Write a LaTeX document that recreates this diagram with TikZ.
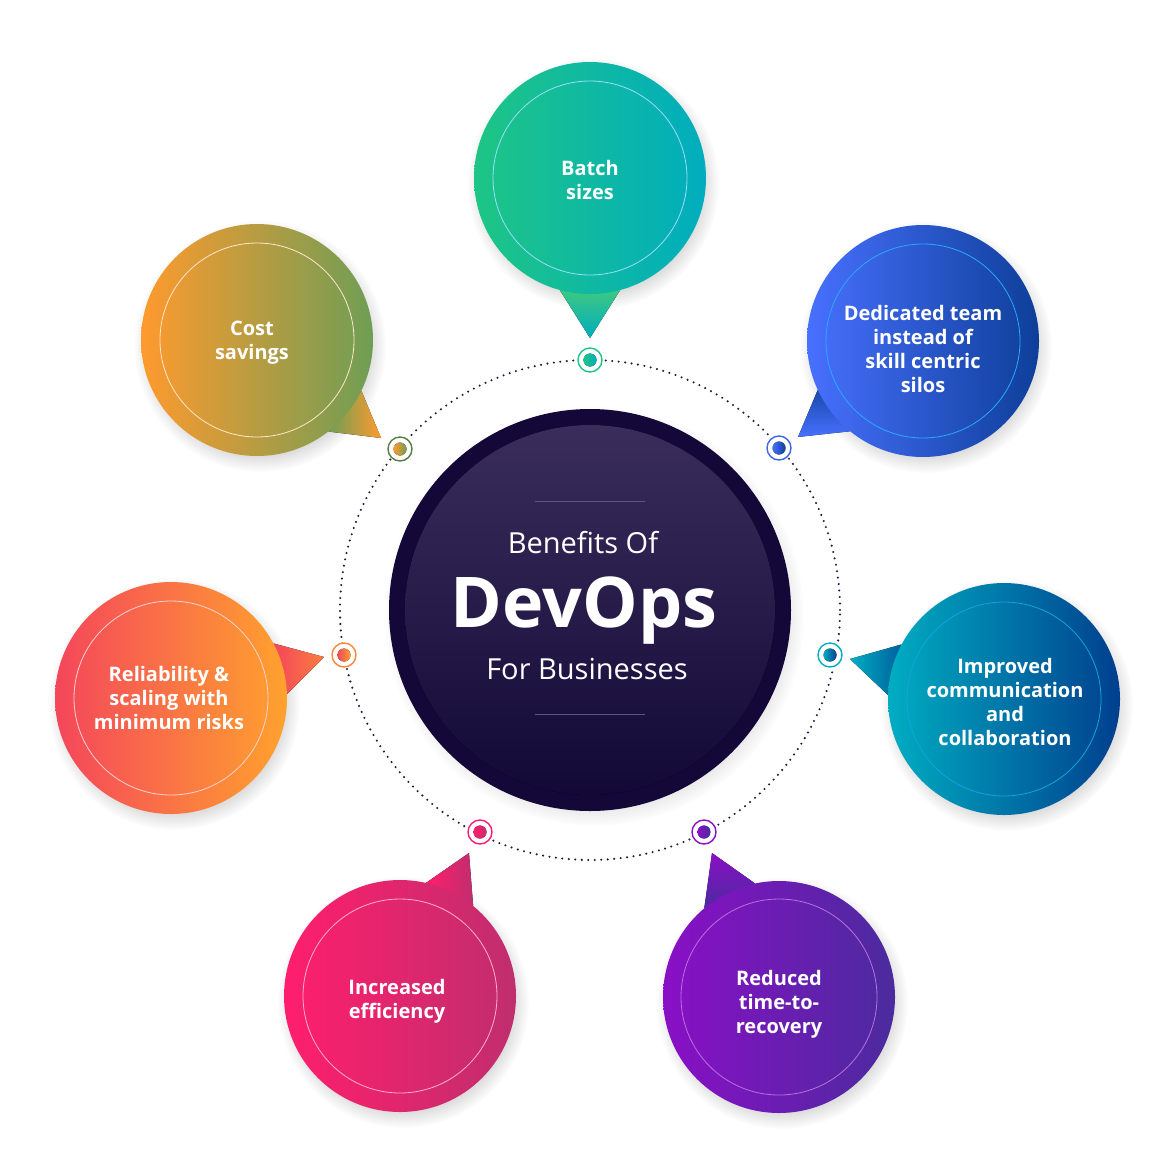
\documentclass[tikz,border=0pt]{standalone}
\usepackage{fontspec}
\setmainfont{Open Sans}
\usetikzlibrary{calc,fadings}

\definecolor{nightink}{HTML}{140838}
\definecolor{nighttop}{HTML}{3A2D5C}
\definecolor{nightbot}{HTML}{120936}
\definecolor{rule}{HTML}{5C5482}
\definecolor{orbitdot}{HTML}{1C1A40}

\definecolor{batchL}{HTML}{1EC585}
\definecolor{batchR}{HTML}{00ADBE}
\definecolor{batchT}{HTML}{3DC882}
\definecolor{teamL}{HTML}{4870FF}
\definecolor{teamR}{HTML}{0D3F99}
\definecolor{commL}{HTML}{00ADC2}
\definecolor{commR}{HTML}{003F8E}
\definecolor{recovL}{HTML}{8A0FC6}
\definecolor{recovR}{HTML}{4B2B9E}
\definecolor{effL}{HTML}{FF1E6D}
\definecolor{effR}{HTML}{C02E6E}
\definecolor{riskL}{HTML}{F4465B}
\definecolor{riskR}{HTML}{FFA22E}
\definecolor{costL}{HTML}{FF9A2E}
\definecolor{costR}{HTML}{6E9E55}

\begin{document}
\begin{tikzpicture}[x=1pt,y=-1pt]

	\tikzstyle{bubble} = [circle,minimum size=232pt,inner sep=0pt]
	\tikzstyle{caption} = [text=white,align=center,font=\bfseries\fontsize{20}{24}\selectfont]
	\tikzstyle{halo} = [line width=0.8pt]
	\tikzstyle{shade} = [black,opacity=0.2,path fading=circle with fuzzy edge 20 percent]
	\tikzstyle{marker} = [circle,minimum size=24pt,inner sep=0pt,fill=white,line width=1.4pt]
	\tikzstyle{orbit} = [orbitdot,line width=2.3pt,line cap=round,dash pattern=on 0pt off 6.5pt]

	\useasboundingbox (0,0) rectangle (1164,1164);

	% dotted orbit
	\draw[orbit] (590,610) circle (250pt);

	% centre disc
	\fill[shade] (594,616) circle (210pt);
	\node[circle,minimum size=402pt,inner sep=0pt,fill=nightink] (core) at (590,610) {};
	\fill[top color=nighttop,bottom color=nightbot] (core.center) circle (185pt);
	\draw[rule,line width=1pt] (535,501) -- (645,501);
	\draw[rule,line width=1pt] (535,714) -- (645,714);
	\node[anchor=base,text=white,font=\fontsize{29}{34}\selectfont] (benefits) at (583,553) {Benefits Of};
	\node[anchor=base,text=white,font=\bfseries\fontsize{70}{80}\selectfont] (devops) at (584,627) {DevOps};
	\node[anchor=base,text=white,font=\fontsize{29}{34}\selectfont] (business) at (587,679) {For Businesses};

	% tail tips
	\coordinate (batch-tip) at (590,338);
	\coordinate (team-tip) at (798,437);
	\coordinate (comm-tip) at (850,659);
	\coordinate (recov-tip) at (712,853);
	\coordinate (eff-tip) at (469,853);
	\coordinate (risk-tip) at (324,657);
	\coordinate (cost-tip) at (381,438);

	% shadows
	\foreach \px/\py in {590/178,923/341,1004/699,779/997,400/996,171/698,257/340}
		\fill[shade] (\px+3,\py+6) circle (126pt);

	% Batch sizes
	\node[bubble] (batch) at (590,178) {};
	\fill[top color=batchT,bottom color=batchR] (batch.255) -- (batch-tip) -- (batch.285) -- cycle;
	\node[bubble,left color=batchL,right color=batchR] (batch) at (590,178) {};
	\draw[halo,draw=cyan!40!white] (batch.center) circle (97pt);
	\node[caption] (batch-text) at (590,180) {Batch\\sizes};

	% Dedicated team
	\node[bubble] (team) at (923,341) {};
	\fill[top color=teamR!80!teamL,bottom color=teamL] (team.205) -- (team-tip) -- (team.231) -- cycle;
	\node[bubble,left color=teamL,right color=teamR] (team) at (923,341) {};
	\draw[halo,draw=teamL!60!cyan] (team.center) circle (97pt);
	\node[caption] (team-text) at (923,349) {Dedicated team\\instead of\\skill centric\\silos};

	% Improved communication
	\node[bubble] (comm) at (1004,699) {};
	\fill[left color=commL,right color=commR!70!commL] (comm-tip) -- (comm.152) -- (comm.178) -- cycle;
	\node[bubble,left color=commL,right color=commR] (comm) at (1004,699) {};
	\draw[halo,draw=cyan!70!commL] (comm.center) circle (97pt);
	\node[caption] (comm-text) at (1005,702) {Improved\\communication\\and\\collaboration};

	% Reduced time-to-recovery
	\node[bubble] (recov) at (779,997) {};
	\fill[top color=recovL,bottom color=recovR] (recov.130) -- (recov-tip) -- (recov.102) -- cycle;
	\node[bubble,left color=recovL,right color=recovR] (recov) at (779,997) {};
	\draw[halo,draw=recovL!60!white] (recov.center) circle (98pt);
	\node[caption] (recov-text) at (779,1004) {Reduced\\time-to-\\recovery};

	% Increased efficiency
	\node[bubble] (eff) at (400,996) {};
	\fill[left color=effL,right color=effR] (eff.77) -- (eff-tip) -- (eff.51) -- cycle;
	\node[bubble,left color=effL,right color=effR] (eff) at (400,996) {};
	\draw[halo,draw=effL!35!white] (eff.center) circle (97pt);
	\node[caption] (eff-text) at (397,1001) {Increased\\efficiency};

	% Reliability and scaling
	\node[bubble] (risk) at (171,698) {};
	\fill[left color=riskL,right color=riskR!60!riskL] (risk.28) -- (risk-tip) -- (risk.2) -- cycle;
	\node[bubble,left color=riskL,right color=riskR] (risk) at (171,698) {};
	\draw[halo,draw=riskL!25!white] (risk.center) circle (97pt);
	\node[caption] (risk-text) at (169,698) {Reliability \&\\scaling with\\minimum risks};

	% Cost savings
	\node[bubble] (cost) at (257,340) {};
	\fill[left color=costR,right color=costL] (cost.-26) -- (cost-tip) -- (cost.-52) -- cycle;
	\node[bubble,left color=costL,right color=costR] (cost) at (257,340) {};
	\draw[halo,draw=costL!25!white] (cost.center) circle (97pt);
	\node[caption] (cost-text) at (252,343) {Cost\\savings};

	% markers on the orbit
	\node[marker,draw=batchL] (m-batch) at (590,360) {};
	\fill[left color=batchL,right color=batchR] (m-batch.center) circle (6.5pt);
	\node[marker,draw=teamL!80!teamR] (m-team) at (779,448) {};
	\fill[left color=teamL,right color=teamR] (m-team.center) circle (6.5pt);
	\node[marker,draw=commL] (m-comm) at (830,655) {};
	\fill[left color=commL,right color=commR] (m-comm.center) circle (6.5pt);
	\node[marker,draw=recovL] (m-recov) at (704,832) {};
	\fill[left color=recovL,right color=recovR] (m-recov.center) circle (6.5pt);
	\node[marker,draw=effL] (m-eff) at (480,832) {};
	\fill[left color=effL,right color=effR!80!effL] (m-eff.center) circle (6.5pt);
	\node[marker,draw=riskR!70!riskL] (m-risk) at (344,655) {};
	\fill[left color=riskL,right color=riskR] (m-risk.center) circle (6.5pt);
	\node[marker,draw=costR!80!black] (m-cost) at (400,449) {};
	\fill[left color=costL,right color=costR] (m-cost.center) circle (6.5pt);

\end{tikzpicture}
\end{document}
